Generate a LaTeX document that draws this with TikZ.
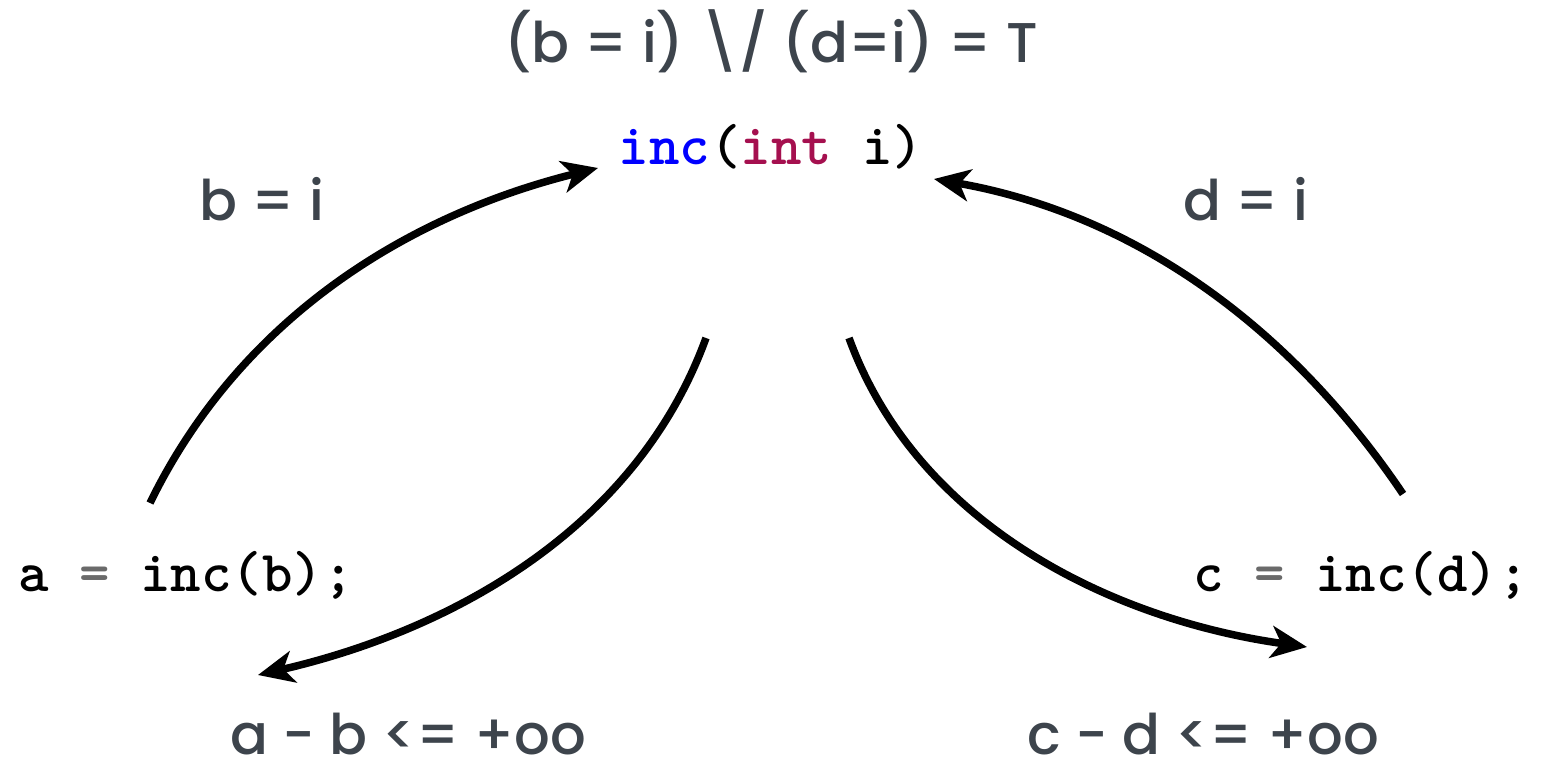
\documentclass[tikz,border=0pt]{standalone}
\usepackage{fontspec}
\newfontfamily\comic{Poppins}[UprightFont=* Medium]
\usetikzlibrary{arrows.meta}
\definecolor{lblc}{HTML}{3D444C}
\definecolor{kw}{HTML}{0000FF}
\definecolor{ty}{HTML}{A5104F}
\definecolor{op}{HTML}{6A6A6A}
\begin{document}
\begin{tikzpicture}[x=1pt,y=1pt,
  lbl/.style={text=lblc, font=\comic\fontsize{56}{60}\selectfont, anchor=base, inner sep=0pt},
  codetxt/.style={font=\ttfamily\bfseries\fontsize{58}{60}\selectfont, anchor=base, inner sep=0pt},
  arr/.style={line width=7.5pt, looseness=0.92, -{Stealth[length=36pt,width=32pt,inset=10pt]}}]
\useasboundingbox (0,0) rectangle (1555,763);
\fill[white] (0,0) rectangle (1555,763);
\node[lbl] (title) at (771,700) {(b = i) \textbackslash/ (d=i) = T};
\node[codetxt] (inc) at (771,598) {\textcolor{kw}{inc}(\textcolor{ty}{int} i)};
\node[lbl] (lb) at (262,542) {b = i};
\node[lbl] (ld) at (1246,542) {d = i};
\node[codetxt] (ca) at (186,171) {a \textcolor{op}{=} inc(b);};
\node[codetxt] (cc) at (1361,171) {c \textcolor{op}{=} inc(d);};
\node[lbl] (ra) at (408,9) {a - b <= +oo};
\node[lbl] (rc) at (1203,9) {c - d <= +oo};
\coordinate (s1) at (150,260);
\coordinate (e1) at (598,595);
\coordinate (s2) at (1403,269);
\coordinate (e2) at (934,584);
\coordinate (s3) at (706,425);
\coordinate (e3) at (258,88);
\coordinate (s4) at (849,425);
\coordinate (e4) at (1307,116);
\draw[arr] (s1) to[out=64,in=194] (e1);
\draw[arr] (s2) to[out=124,in=-10] (e2);
\draw[arr] (s3) to[out=-110,in=13] (e3);
\draw[arr] (s4) to[out=-70,in=172] (e4);
\end{tikzpicture}
\end{document}
